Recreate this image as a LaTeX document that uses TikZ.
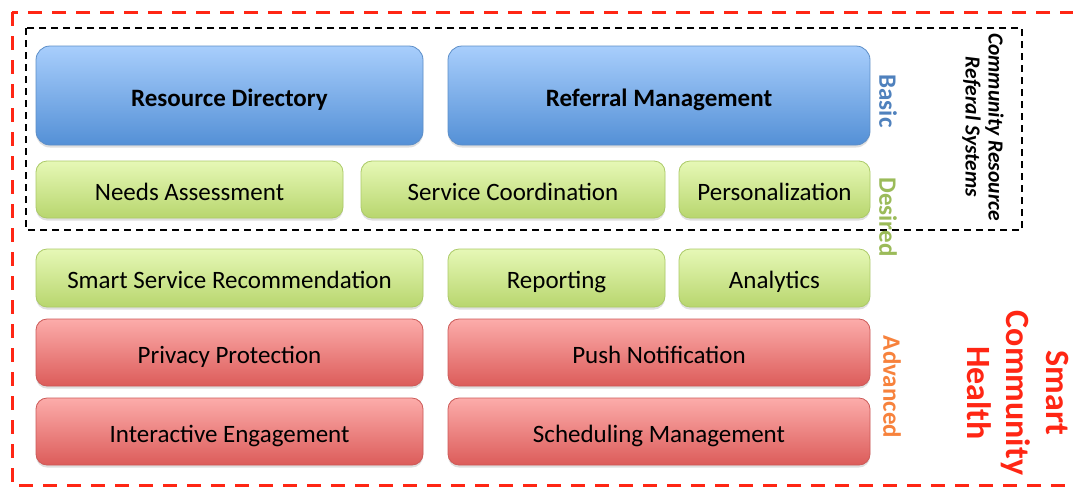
\documentclass[tikz,border=0pt]{standalone}
\usepackage{fontspec}
\setmainfont{Carlito}
\usetikzlibrary{shadows}
\definecolor{bluetop}{RGB}{168,206,252}
\definecolor{bluebot}{RGB}{84,144,214}
\definecolor{blueline}{RGB}{92,142,200}
\definecolor{greentop}{RGB}{230,248,182}
\definecolor{greenbot}{RGB}{184,214,110}
\definecolor{greenline}{RGB}{172,202,104}
\definecolor{redtop}{RGB}{252,172,170}
\definecolor{redbot}{RGB}{220,92,90}
\definecolor{redline}{RGB}{204,90,88}
\definecolor{lblblue}{RGB}{79,129,189}
\definecolor{lblgreen}{RGB}{155,187,89}
\definecolor{lblorange}{RGB}{247,130,60}
\definecolor{sch}{RGB}{255,38,20}
\tikzset{
  box/.style={rounded corners=11pt, line width=0.8pt, inner sep=0pt,
    text height=21pt, text depth=0pt,
    font=\fontsize{25}{28}\selectfont,
    drop shadow={opacity=0.25, shadow xshift=0pt, shadow yshift=-2.5pt}},
  bluebox/.style={box, draw=blueline, top color=bluetop, bottom color=bluebot, rounded corners=14pt, font=\fontsize{25}{28}\selectfont\bfseries},
  greenbox/.style={box, draw=greenline, top color=greentop, bottom color=greenbot},
  redbox/.style={box, draw=redline, top color=redtop, bottom color=redbot},
  level/.style={rotate=-90, font=\fontsize{25}{28}\selectfont\bfseries, inner sep=0pt},
}
\begin{document}
\begin{tikzpicture}[x=1pt, y=-1pt]
\useasboundingbox (0,0) rectangle (1073,488);
\clip (0,0) rectangle (1073,488);
\fill[white] (0,0) rectangle (1073,488);
% outer red dashed frame
\draw[sch, line width=3pt, dash pattern=on 14pt off 10pt] (12,12) rectangle (1090,485);
% inner black dashed frame
\draw[black, line width=1.5pt, dash pattern=on 7pt off 5pt] (26,28) rectangle (1022,230);
% boxes
\node[bluebox, minimum width=387pt, minimum height=99pt] (rd) at (229.5,95.5) {Resource Directory};
\node[bluebox, minimum width=422pt, minimum height=99pt] (rm) at (659,95.5) {Referral Management};
\node[greenbox, minimum width=307pt, minimum height=57pt] (na) at (189.5,189.5) {Needs Assessment};
\node[greenbox, minimum width=304pt, minimum height=57pt] (sc) at (513,189.5) {Service Coordination};
\node[greenbox, minimum width=191pt, minimum height=57pt] (pe) at (774.5,189.5) {Personalization};
\node[greenbox, minimum width=387pt, minimum height=58pt] (ssr) at (229.5,278) {Smart Service Recommendation};
\node[greenbox, minimum width=217pt, minimum height=58pt] (rep) at (556.5,278) {Reporting};
\node[greenbox, minimum width=191pt, minimum height=58pt] (ana) at (774.5,278) {Analytics};
\node[redbox, minimum width=387pt, minimum height=67pt] (pp) at (229.5,352.5) {Privacy Protection};
\node[redbox, minimum width=422pt, minimum height=67pt] (pn) at (659,352.5) {Push Notification};
\node[redbox, minimum width=387pt, minimum height=67pt] (ie) at (229.5,431.5) {Interactive Engagement};
\node[redbox, minimum width=422pt, minimum height=67pt] (sm) at (659,431.5) {Scheduling Management};
% level labels
\node[level, text=lblblue] (basic) at (888,101) {Basic};
\node[level, text=lblgreen] (desired) at (888,217) {Desired};
\node[level, text=lblorange] (adv) at (892,387) {Advanced};
% group labels
\node[rotate=-90, align=center, inner sep=0pt, font=\fontsize{21.5}{23}\selectfont\bfseries\itshape] (crrs) at (983,127) {Community Resource\\Referal Systems};
\node[rotate=-90, align=center, inner sep=0pt, text=sch, font=\fontsize{34}{39.5}\selectfont\bfseries] (sch) at (1018,393) {Smart\\Community\\Health};
\end{tikzpicture}
\end{document}
